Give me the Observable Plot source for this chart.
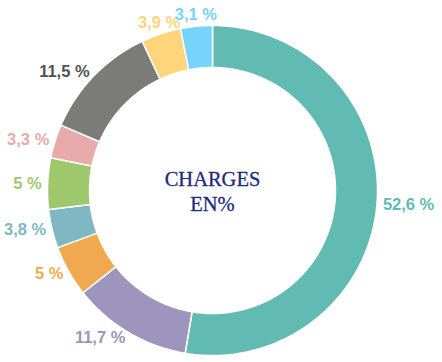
<!DOCTYPE html>
<html><head><meta charset="utf-8">
<script src="https://cdn.jsdelivr.net/npm/d3@7"></script>
<script src="https://cdn.jsdelivr.net/npm/@observablehq/plot@0.6"></script>
<style>body{margin:0;background:#fff;} #chart{width:442px;height:362px;}</style>
</head><body><div id="chart"></div>
<script>
// ---- data ----
const categories = ["c1", "c2", "c3", "c4", "c5", "c6", "c7", "c8", "c9"];
const values = [52.6, 11.7, 5, 3.8, 5, 3.3, 11.5, 3.9, 3.1];
const labels = ["52,6 %", "11,7 %", "5 %", "3,8 %", "5 %", "3,3 %", "11,5 %", "3,9 %", "3,1 %"];
const sliceColors = ["#62bbb2", "#9d95bd", "#f0a94f", "#7fb7c2", "#9fc76b", "#e8aaab", "#7b7b7a", "#fed57b", "#78d3fb"];
const labelColors = ["#62bbb2", "#9d95bd", "#f0a94f", "#7fb7c2", "#9fc76b", "#e8aaab", "#525252", "#fed57b", "#78d3fb"];
const centerTitle = ["CHARGES", "EN%"];

// ---- layout constants ----
const W = 442, H = 362, cx = 212, cy = 190;
const R = 165, R0 = 123, RL = 171;

const total = d3.sum(values);
let cum = 0;
const slices = values.map((v, i) => {
  const a0 = cum / total * 2 * Math.PI;
  cum += v;
  const a1 = cum / total * 2 * Math.PI;
  return {key: categories[i], value: v, a0, a1, mid: (a0 + a1) / 2,
          color: sliceColors[i], labelColor: labelColors[i], label: labels[i]};
});

// polygon points for each ring slice (data coordinates, y up)
const poly = [];
for (const s of slices) {
  const n = Math.max(8, Math.ceil((s.a1 - s.a0) * 180 / Math.PI));
  const pts = [];
  for (let k = 0; k <= n; k++) {
    const a = s.a0 + (s.a1 - s.a0) * k / n;
    pts.push({x: R * Math.sin(a), y: R * Math.cos(a)});
  }
  for (let k = n; k >= 0; k--) {
    const a = s.a0 + (s.a1 - s.a0) * k / n;
    pts.push({x: R0 * Math.sin(a), y: R0 * Math.cos(a)});
  }
  pts.push(pts[0]);
  for (const p of pts) poly.push({...p, key: s.key, color: s.color});
}

const labelData = slices.map(s => {
  const sn = Math.sin(s.mid);
  return {x: RL * sn, y: RL * Math.cos(s.mid), text: s.label, color: s.labelColor,
          anchor: sn > 0.35 ? "start" : sn < -0.35 ? "end" : "middle"};
});

const labelMark = anchor => Plot.text(labelData.filter(d => d.anchor === anchor), {
  x: "x", y: "y", text: "text", fill: "color", textAnchor: anchor,
  lineAnchor: anchor === "middle" ? "bottom" : "middle",
  fontSize: 16.5, fontWeight: "bold", fontFamily: "Liberation Sans, Arial, sans-serif"
});

const chart = Plot.plot({
  width: W, height: H,
  marginTop: 0, marginRight: 0, marginBottom: 0, marginLeft: 0,
  x: {domain: [-cx, W - cx], axis: null},
  y: {domain: [-(H - cy), cy], axis: null},
  color: {type: "identity"},
  style: {background: "#fff", fontFamily: "Liberation Sans, Arial, sans-serif"},
  marks: [
    Plot.line(poly, {x: "x", y: "y", z: "key", fill: "color", stroke: "#fff", strokeWidth: 1.5, strokeLinejoin: "miter"}),
    labelMark("start"), labelMark("middle"), labelMark("end"),
    Plot.text([{x: 0, y: 0, t: centerTitle.join("\n")}], {
      x: "x", y: "y", text: "t", fill: "#1d2a7e", stroke: "#1d2a7e", strokeWidth: 0.3,
      fontSize: 20.5, lineHeight: 1.22,
      fontFamily: "Liberation Serif, Times New Roman, serif", textAnchor: "middle", lineAnchor: "middle"
    })
  ]
});
document.getElementById("chart").appendChild(chart);
</script>
</body></html>
